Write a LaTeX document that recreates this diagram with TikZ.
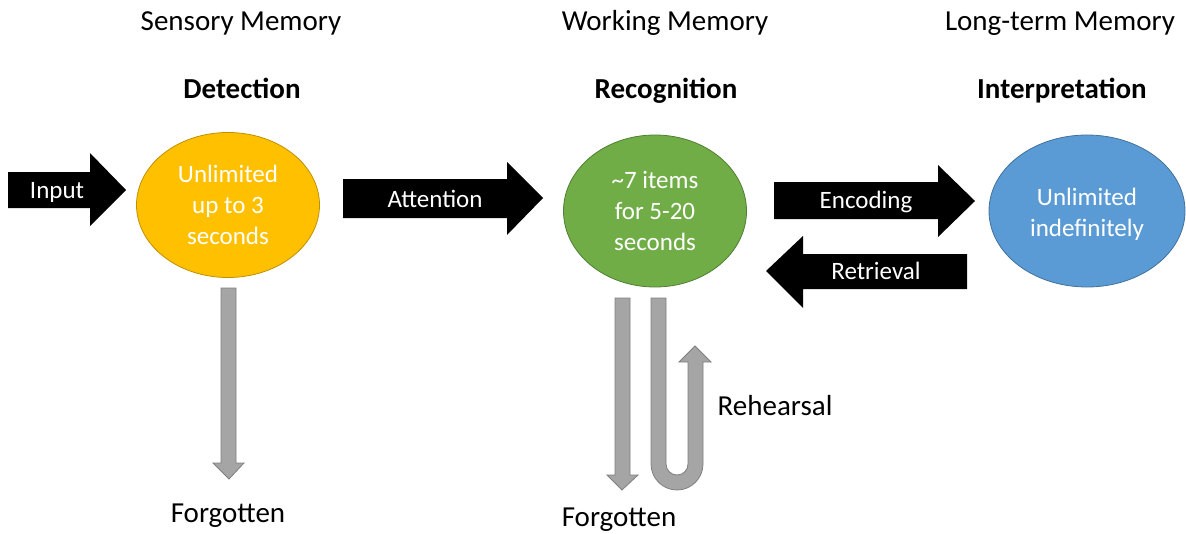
\documentclass[tikz,border=0pt]{standalone}
\usepackage{fontspec}
\setmainfont{Carlito}
\usetikzlibrary{shapes.geometric}

\definecolor{sensoryfill}{HTML}{FFC000}
\definecolor{sensoryedge}{HTML}{BF9000}
\definecolor{workingfill}{HTML}{70AD47}
\definecolor{workingedge}{HTML}{507E32}
\definecolor{longfill}{HTML}{5B9BD5}
\definecolor{longedge}{HTML}{41719C}
\definecolor{greyfill}{HTML}{A5A5A5}
\definecolor{greyedge}{HTML}{7F7F7F}

\tikzset{
    stage/.style={anchor=base, font=\fontsize{29}{34}\selectfont},
    process/.style={anchor=base, font=\fontsize{29}{34}\selectfont\bfseries},
    memory/.style={ellipse, line width=0.8pt, text=white, align=center, inner sep=0pt,
        font=\fontsize{25}{31}\selectfont},
    blockarrow/.style={fill=black},
    arrowtext/.style={anchor=base, text=white, font=\fontsize{25}{30}\selectfont},
    greyarrow/.style={fill=greyfill, draw=greyedge, line width=0.8pt},
    sidetext/.style={anchor=base, font=\fontsize{29}{34}\selectfont}
}

\begin{document}
\begin{tikzpicture}[x=1pt, y=1pt]
                \useasboundingbox (0,0) rectangle (1186,-533);
                % stages
                \node[stage] (sensoryhead) at (241,-30) {Sensory Memory};
                \node[stage] (workinghead) at (665,-30) {Working Memory};
                \node[stage] (longhead) at (1060,-30) {Long-term Memory};
                \node[process] (detection) at (242,-98) {Detection};
                \node[process] (recognition) at (666,-98) {Recognition};
                \node[process] (interpretation) at (1062,-98) {Interpretation};
                % memory stores
                \node[memory, fill=sensoryfill, draw=sensoryedge, minimum width=183, minimum height=145] (sensory) at (228,-205) {Unlimited\\up to 3\\seconds};
                \node[memory, fill=workingfill, draw=workingedge, minimum width=183, minimum height=152] (working) at (655,-211) {\textasciitilde7 items\\for 5-20\\seconds};
                \node[memory, fill=longfill, draw=longedge, minimum width=196, minimum height=152] (longterm) at (1087,-211) {};
                \node[align=center, text=white, font=\fontsize{25}{31}\selectfont] (longtext) at ([yshift=-3pt]longterm.center) {Unlimited\\indefinitely};
                % block arrows
                \fill[blockarrow] (8,-172) -- (90,-172) -- (90,-153) -- (126,-190) -- (90,-226) -- (90,-208) -- (8,-208) -- cycle;
                \fill[blockarrow] (343,-179) -- (507,-179) -- (507,-162) -- (543,-198) -- (507,-235) -- (507,-218) -- (343,-218) -- cycle;
                \fill[blockarrow] (774,-182) -- (938,-182) -- (938,-165) -- (975,-201) -- (938,-237) -- (938,-219) -- (774,-219) -- cycle;
                \fill[blockarrow] (967,-254) -- (803,-254) -- (803,-236) -- (766,-271) -- (803,-308) -- (803,-289) -- (967,-289) -- cycle;
                \node[arrowtext] (input) at (57,-198) {Input};
                \node[arrowtext] (attention) at (435,-207) {Attention};
                \node[arrowtext] (encoding) at (866,-208) {Encoding};
                \node[arrowtext] (retrieval) at (876,-279) {Retrieval};
                % forgetting and rehearsal
                \draw[greyarrow] (221,-288) -- (236,-288) -- (236,-463) -- (244,-463) -- (229,-479) -- (213,-463) -- (221,-463) -- cycle;
                \draw[greyarrow] (615,-298) -- (630,-298) -- (630,-475) -- (638,-475) -- (622,-490) -- (607,-475) -- (615,-475) -- cycle;
                \draw[greyarrow] (651,-298) -- (651,-464) arc[start angle=180, end angle=360, radius=26] -- (703,-362) -- (711,-362) -- (695,-346) -- (679,-362) -- (688,-362) -- (688,-464) arc[start angle=0, end angle=-180, radius=11] -- (666,-298) -- cycle;
                \node[sidetext] (forgotten1) at (228,-522) {Forgotten};
                \node[sidetext] (forgotten2) at (619,-526) {Forgotten};
                \node[sidetext] (rehearsal) at (775,-415) {Rehearsal};
\end{tikzpicture}
\end{document}
